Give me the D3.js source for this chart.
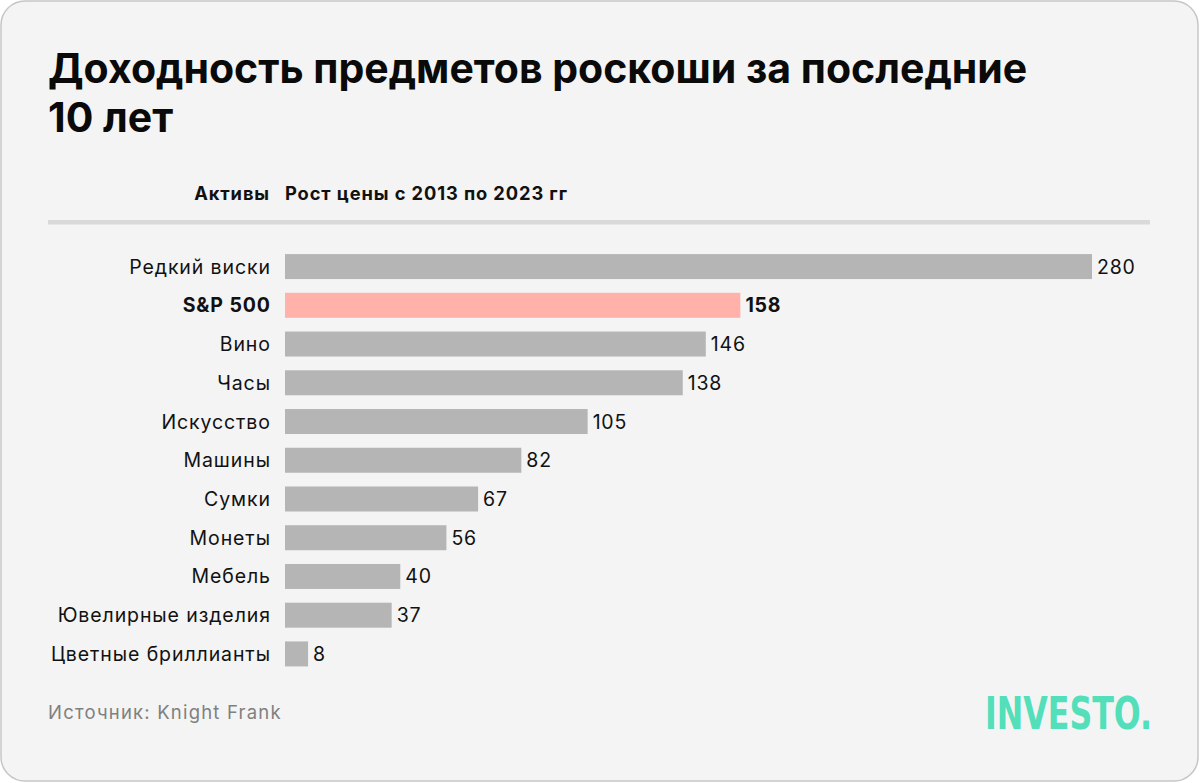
<!DOCTYPE html>
<html><head><meta charset="utf-8">
<script src="https://cdn.jsdelivr.net/npm/d3@7"></script>
<style>html,body{margin:0;padding:0;background:#fff;}svg{display:block;}</style>
</head><body>
<script>
const categories = ["Редкий виски","S&P 500","Вино","Часы","Искусство","Машины","Сумки","Монеты","Мебель","Ювелирные изделия","Цветные бриллианты"];
const values = [280,158,146,138,105,82,67,56,40,37,8];
const highlight = ["S&P 500"];
const titleLines = ["Доходность предметов роскоши за последние","10 лет"];
const headerLeft = "Активы";
const headerRight = "Рост цены с 2013 по 2023 гг";
const source = "Источник: Knight Frank";
const logo = "INVESTO.";

const W=1200,H=783;
const svg=d3.select("body").append("svg").attr("width",W).attr("height",H);
const font="Inter, 'Noto Sans', sans-serif";
svg.append("rect").attr("x",1).attr("y",1).attr("width",W-3).attr("height",H-3).attr("rx",24)
  .attr("fill","#f4f4f4").attr("stroke","#c6c6c6").attr("stroke-width",1.5);

const t=svg.append("text").attr("font-family",font).attr("font-weight",700).attr("font-size",41)
  .attr("fill","#0a0a0a").attr("letter-spacing",0);
titleLines.forEach((l,i)=>t.append("tspan").attr("x",48).attr("y",83+i*49).text(l));

svg.append("text").attr("x",270).attr("y",200).attr("text-anchor","end").attr("font-family",font)
  .attr("font-weight",700).attr("font-size",18.3).attr("letter-spacing",0.9).attr("fill","#111").text(headerLeft);
svg.append("text").attr("x",285).attr("y",200).attr("font-family",font)
  .attr("font-weight",700).attr("font-size",18.3).attr("letter-spacing",0.9).attr("fill","#111").text(headerRight);
svg.append("rect").attr("x",48).attr("y",220).attr("width",1102).attr("height",4.5).attr("fill","#d9d9d9");

const x=d3.scaleLinear().domain([0,280]).range([285,1092]);
const y=d3.scaleBand().domain(categories).range([247.1,673.4]).paddingInner(0.355).paddingOuter(0.18);
const g=svg.append("g");
categories.forEach((c,i)=>{
  const hl=highlight.includes(c);
  g.append("rect").attr("x",x(0)).attr("y",y(c)).attr("width",x(values[i])-x(0)).attr("height",y.bandwidth())
    .attr("fill",hl?"#ffb1aa":"#b5b5b5");
  const cy=y(c)+y.bandwidth()/2;
  g.append("text").attr("x",270+0.9).attr("y",cy).attr("dy","0.36em").attr("text-anchor","end")
    .attr("font-family",font).attr("font-size",19.5).attr("letter-spacing",0.9).attr("font-weight",hl?700:400).attr("fill","#111").text(c);
  g.append("text").attr("x",x(values[i])+5).attr("y",cy).attr("dy","0.36em")
    .attr("font-family",font).attr("font-size",19.5).attr("letter-spacing",0.8).attr("font-weight",hl?700:400).attr("fill","#111").text(values[i]);
});

svg.append("text").attr("x",48).attr("y",719).attr("font-family",font).attr("font-size",18.5).attr("letter-spacing",1.2)
  .attr("fill","#808080").text(source);
svg.append("text").attr("x",985).attr("y",729).attr("font-family","'DejaVu Sans Condensed','DejaVu Sans',sans-serif")
  .attr("font-weight",700).attr("font-size",44).attr("fill","#52dfba")
  .attr("textLength",167).attr("lengthAdjust","spacingAndGlyphs").text(logo);
</script>
</body></html>
